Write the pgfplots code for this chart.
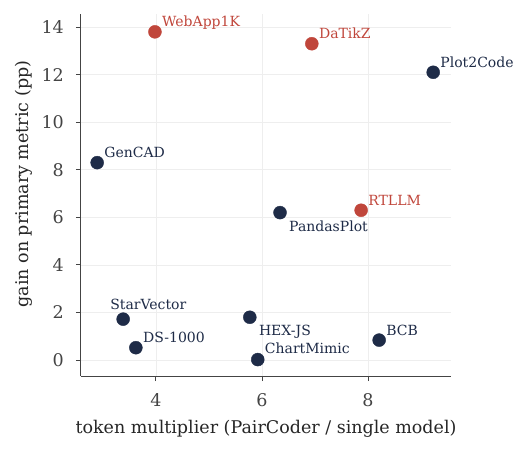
\documentclass[border=0pt]{standalone}
\usepackage{pgfplots}
\pgfplotsset{compat=1.18}
\usepackage{fontspec}
\setmainfont{DejaVu Serif}
\definecolor{navy}{HTML}{1E2B47}
\definecolor{brick}{HTML}{C0463B}
\definecolor{spine}{HTML}{444444}
\definecolor{gridc}{HTML}{EEEEEE}
\pgfplotstableread{
x y dx dy label
2.89 8.3 7 5 GenCAD
9.23 12.1 7 5 Plot2Code
6.34 6.2 9 -19 PandasPlot
3.38 1.72 -13 9.5 StarVector
3.62 0.52 7 5 DS-1000
5.77 1.8 9 -18 HEX-JS
5.92 0.02 7 6 ChartMimic
8.21 0.84 7 5 BCB
}\navydata
\pgfplotstableread{
x y dx dy label
3.98 13.8 7 5 WebApp1K
6.94 13.3 7 5 DaTikZ
7.87 6.3 7 5 RTLLM
}\reddata
\begin{document}
\begin{tikzpicture}
\path[use as bounding box] (-81pt,-75pt) rectangle (451pt,376pt);
\begin{axis}[
 scale only axis, width=370pt, height=362pt,
 xmin=2.585, xmax=9.566, ymin=-0.67, ymax=14.55,
 axis x line*=bottom, axis y line*=left,
 axis line style={spine, line width=1pt},
 xtick={4,6,8}, ytick={0,2,...,14},
 tick style={spine, line width=1pt}, tick align=outside, major tick length=5pt,
 grid=major, major grid style={gridc, line width=0.6pt},
 ticklabel style={font=\fontsize{17.5}{20}\selectfont, text=spine, inner sep=0pt},
 xticklabel style={yshift=-12pt},
 yticklabel style={xshift=-12pt},
 /pgf/number format/assume math mode=true,
 xlabel={token multiplier (PairCoder / single model)},
 ylabel={gain on primary metric (pp)},
 label style={font=\fontsize{17.5}{20}\selectfont, text=black!85, inner sep=0pt},
 xlabel style={at={([yshift=-44pt]axis description cs:0.5,0)}, anchor=north},
 ylabel style={at={([xshift=-48pt]axis description cs:0,0.53)}, anchor=south},
 clip=false,
 nodes near coords, point meta=explicit symbolic,
 visualization depends on={\thisrow{dx} \as \dx},
 visualization depends on={\thisrow{dy} \as \dy},
]
\addplot[only marks, mark=*, mark size=6.5pt, color=navy,
  every node near coord/.append style={anchor=base west, xshift=\dx pt, yshift=\dy pt, inner sep=0pt, font=\fontsize{14}{16}\selectfont, text=navy}]
  table[x=x, y=y, meta=label] {\navydata};
\addplot[only marks, mark=*, mark size=6.5pt, color=brick,
  every node near coord/.append style={anchor=base west, xshift=\dx pt, yshift=\dy pt, inner sep=0pt, font=\fontsize{14}{16}\selectfont, text=brick}]
  table[x=x, y=y, meta=label] {\reddata};
\end{axis}
\end{tikzpicture}
\end{document}
